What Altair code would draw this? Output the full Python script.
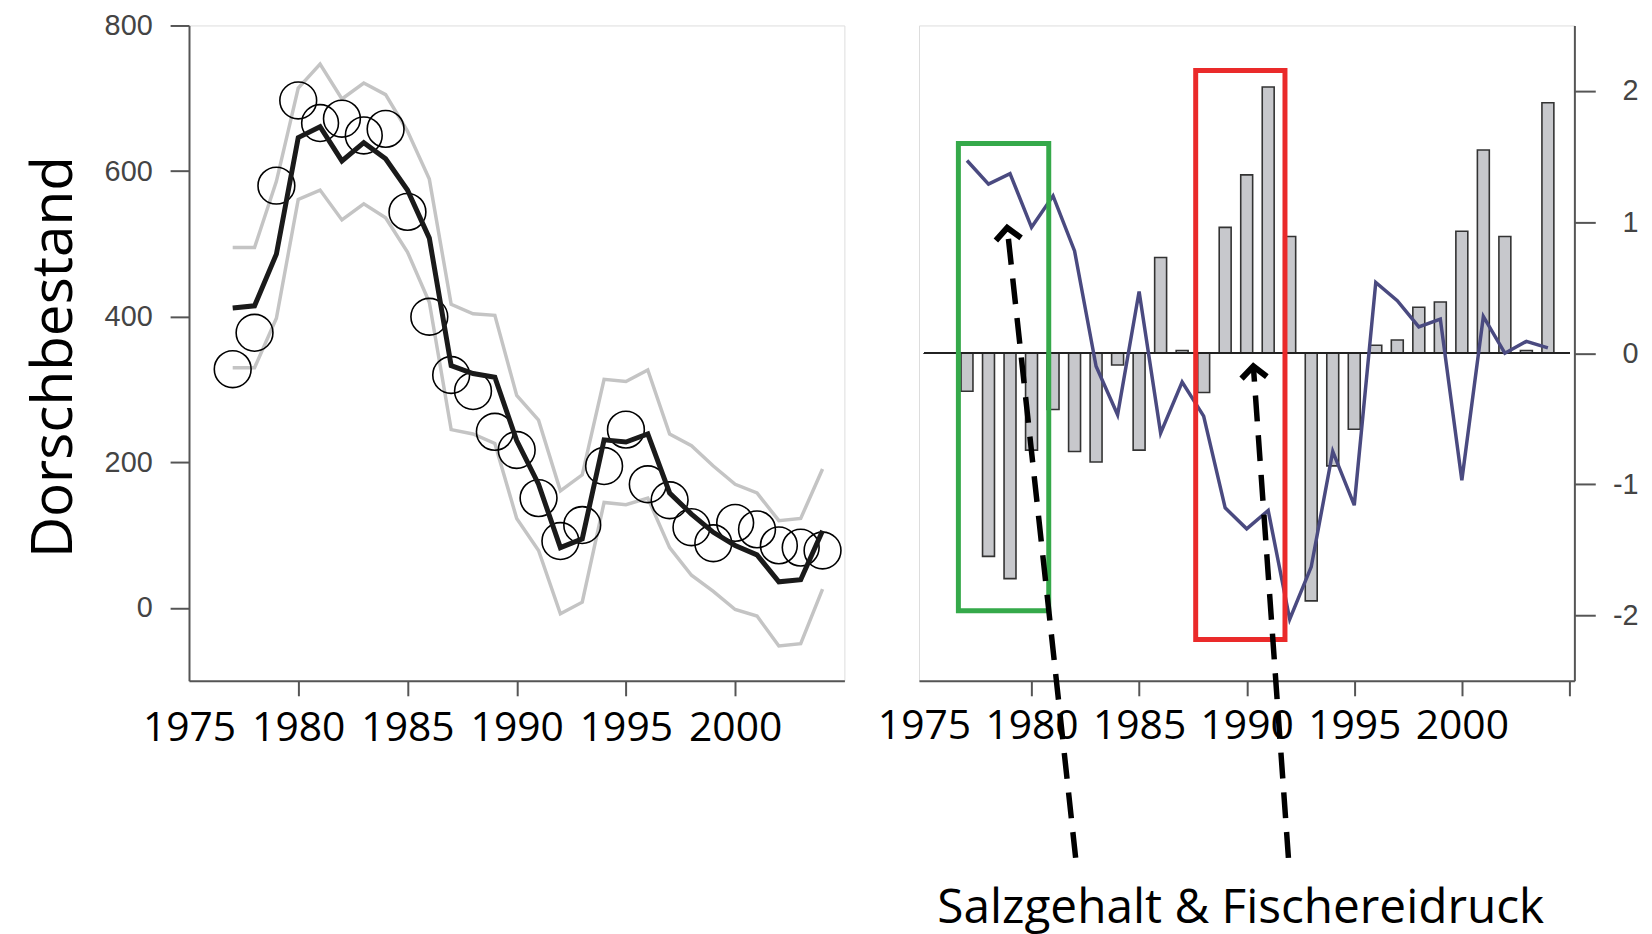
import altair as alt
import pandas as pd

# ---------------- data ----------------
years = [1977, 1978, 1979, 1980, 1981, 1982, 1983, 1984, 1985, 1986,
         1987, 1988, 1989, 1990, 1991, 1992, 1993, 1994, 1995, 1996,
         1997, 1998, 1999, 2000, 2001, 2002, 2003, 2004]

cod_observed = [328, 378, 580, 697, 666, 672, 649, 658, 544, 400,
                320, 298, 242, 217, 151, 92, 114, 195, 245, 170,
                148, 111, 89, 117, 108, 86, 83, 79]
cod_median = [412, 415, 486, 646, 661, 614, 639, 617, 574, 508,
              333, 322, 317, 230, 170, 83, 95, 231, 228, 239,
              158, 129, 104, 86, 73, 36, 39, 106]
cod_upper = [495, 495, 586, 714, 747, 699, 721, 705, 655, 589,
             417, 404, 402, 292, 258, 161, 183, 314, 311, 327,
             239, 223, 195, 170, 158, 120, 123, 191]
cod_lower = [330, 330, 398, 561, 574, 533, 555, 536, 489, 420,
             245, 239, 226, 123, 79, -8, 8, 145, 142, 151,
             83, 45, 23, -2, -11, -52, -49, 26]

bar_values = [-0.29, -1.55, -1.72, -0.74, -0.43, -0.75, -0.83, -0.09, -0.74, 0.73,
              0.02, -0.30, 0.96, 1.36, 2.03, 0.89, -1.89, -0.86, -0.58, 0.06,
              0.10, 0.35, 0.39, 0.93, 1.55, 0.89, 0.02, 1.91]
line_values = [1.47, 1.29, 1.37, 0.96, 1.20, 0.78, -0.10, -0.47, 0.47, -0.61,
               -0.22, -0.48, -1.18, -1.34, -1.20, -2.03, -1.63, -0.75, -1.16, 0.54,
               0.40, 0.20, 0.26, -0.97, 0.28, 0.00, 0.09, 0.04]

box_names = ["green", "red"]
box_x1 = [1976.6, 1987.63]
box_x2 = [1980.8, 1991.78]
box_y1 = [1.60, 2.157]
box_y2 = [-1.965, -2.185]
box_colors = ["#35a94a", "#ea2a2a"]

arrow_names = ["green", "red"]
arrow_base_x = [1982.05, 1991.94]
arrow_base_y = [-3.85, -3.85]
arrow_tip_x = [1978.87, 1990.31]
arrow_tip_y = [0.956, -0.10]
arrow_angle = [353.7, 355.8]

left_x_ticks = [1975, 1980, 1985, 1990, 1995, 2000]
right_x_ticks = [1975, 1980, 1985, 1990, 1995, 2000, 2005]
left_y_ticks = [0, 200, 400, 600, 800]
right_y_ticks = [-2, -1, 0, 1, 2]

# ---------------- tables ----------------
cod = pd.DataFrame({"year": years, "observed": cod_observed, "median": cod_median,
                    "upper": cod_upper, "lower": cod_lower})
env = pd.DataFrame({"year": years, "bar": bar_values, "line": line_values})
boxes = pd.DataFrame({"name": box_names, "x1": box_x1, "x2": box_x2,
                      "y1": box_y1, "y2": box_y2, "color": box_colors})
arrow_lines = pd.DataFrame({
    "name": arrow_names + arrow_names,
    "order": [0, 0, 1, 1],
    "x": arrow_base_x + arrow_tip_x,
    "y": arrow_base_y + arrow_tip_y,
})
arrow_heads = pd.DataFrame({"name": arrow_names, "x": arrow_tip_x, "y": arrow_tip_y,
                            "angle": arrow_angle})

W = 659
H = 659
AX = "#555555"
hide_1975_tick = {"condition": {"test": "datum.value === 1975", "value": 0}, "value": 1}

# ---------------- left panel ----------------
xl_scale = alt.Scale(domain=[1975, 2005], nice=False, zero=False)
yl_scale = alt.Scale(domain=[-100, 800], nice=False, zero=False)

xl_axis = alt.Axis(values=left_x_ticks, labelExpr="'' + datum.value", tickSize=15,
                   tickColor=AX, tickWidth=2, tickOpacity=hide_1975_tick,
                   domainColor=AX, domainWidth=2,
                   labelFont="Open Sans", labelFontSize=41, labelColor="black",
                   labelPadding=13, labelFlush=False, labelOverlap=False,
                   labelBound=False, grid=False, title=None)
yl_axis = alt.Axis(values=left_y_ticks, labelExpr="'' + datum.value", tickSize=19,
                   tickColor=AX, tickWidth=2, domainColor=AX, domainWidth=2,
                   labelFont="Liberation Sans", labelFontSize=29, labelColor="#444444",
                   labelPadding=18, labelFlush=False, labelOverlap=False, grid=False,
                   title="Dorschbestand", titleFont="Open Sans", titleFontSize=57,
                   titleFontWeight="normal", titleColor="black", titleAngle=270,
                   titleX=-118, titleY=333, titleAlign="center",
                   titleBaseline="alphabetic")

def xl(field="year"):
    return alt.X(f"{field}:Q", scale=xl_scale, axis=xl_axis)

def yl(field):
    return alt.Y(f"{field}:Q", scale=yl_scale, axis=yl_axis)

upper_line = alt.Chart(cod).mark_line(color="#c4c4c4", strokeWidth=3.5).encode(
    x=xl(), y=yl("upper"))
lower_line = alt.Chart(cod).mark_line(color="#c4c4c4", strokeWidth=3.5).encode(
    x=xl(), y=yl("lower"))
circles = alt.Chart(cod).mark_point(shape="circle", filled=False, color="black",
                                    strokeWidth=1.6, size=1369, opacity=1).encode(
    x=xl(), y=yl("observed"))
median_line = alt.Chart(cod).mark_line(color="#1a1a1a", strokeWidth=5).encode(
    x=xl(), y=yl("median"))

left = alt.layer(upper_line, lower_line, circles, median_line).properties(
    width=W, height=H)

# ---------------- right panel ----------------
xr_scale = alt.Scale(domain=[1975, 2005], nice=False, zero=False)
yr_scale = alt.Scale(domain=[-2.5, 2.5], nice=False, zero=False)

xr_axis = alt.Axis(values=right_x_ticks,
                   labelExpr="datum.value <= 2000 ? '' + datum.value : ''",
                   tickSize=15, tickColor=AX, tickWidth=2, tickOpacity=hide_1975_tick,
                   domainColor=AX, domainWidth=2,
                   labelFont="Open Sans", labelFontSize=41, labelColor="black",
                   labelPadding=11, labelFlush=False, labelOverlap=False,
                   labelBound=False, grid=False,
                   title="Salzgehalt & Fischereidruck", titleFont="Open Sans",
                   titleFontSize=48, titleFontWeight="normal", titleColor="black",
                   titleX=323, titleY=243, titleAlign="center",
                   titleBaseline="alphabetic")
yr_axis = alt.Axis(values=right_y_ticks, labelExpr="'' + datum.value", orient="right",
                   tickSize=21, tickColor=AX, tickWidth=2, domainColor=AX, domainWidth=2,
                   labelFont="Liberation Sans", labelFontSize=29, labelColor="#444444",
                   labelAlign="right", labelPadding=43, labelFlush=False,
                   labelOverlap=False, grid=False, title=None)

def xr(field="year"):
    return alt.X(f"{field}:Q", scale=xr_scale, axis=xr_axis)

def yr(field):
    return alt.Y(f"{field}:Q", scale=yr_scale, axis=yr_axis)

bars = alt.Chart(env).mark_bar(size=12, fill="#c7c8cc", stroke="#333333",
                               strokeWidth=1.6).encode(
    x=xr(), y=yr("bar"), y2=alt.datum(0))
zero_rule = alt.Chart(env).mark_rule(color="#222222", strokeWidth=1.8).encode(
    x=alt.datum(1975, scale=xr_scale), x2=alt.datum(2005),
    y=alt.datum(0, scale=yr_scale))
env_line = alt.Chart(env).mark_line(color="#4a4a80", strokeWidth=3.5).encode(
    x=xr(), y=yr("line"))
box_rects = alt.Chart(boxes).mark_rect(filled=False, strokeWidth=5).encode(
    x=xr("x1"), x2="x2", y=yr("y1"), y2="y2",
    stroke=alt.Stroke("color:N", scale=None))
dash_lines = alt.Chart(arrow_lines).mark_line(color="black", strokeWidth=5.5,
                                              strokeDash=[26, 14]).encode(
    x=xr("x"), y=yr("y"), detail="name:N", order="order:Q")
heads = alt.Chart(arrow_heads).mark_point(shape="M-1,0.9L0,0L1,0.9", filled=False,
                                          color="black", strokeWidth=6, size=650,
                                          opacity=1, strokeJoin="miter").encode(
    x=xr("x"), y=yr("y"), angle=alt.Angle("angle:Q", scale=None))

right = alt.layer(bars, zero_rule, env_line, box_rects, dash_lines, heads).properties(
    width=W, height=H)

chart = alt.hconcat(left, right, spacing=75, bounds="flush").properties(
    padding={"left": 17, "top": 0, "right": 5, "bottom": 5}
).configure_view(stroke=AX, strokeWidth=2).configure(background="white")

chart.save("out.html", embed_options={"renderer": "svg", "actions": False})
